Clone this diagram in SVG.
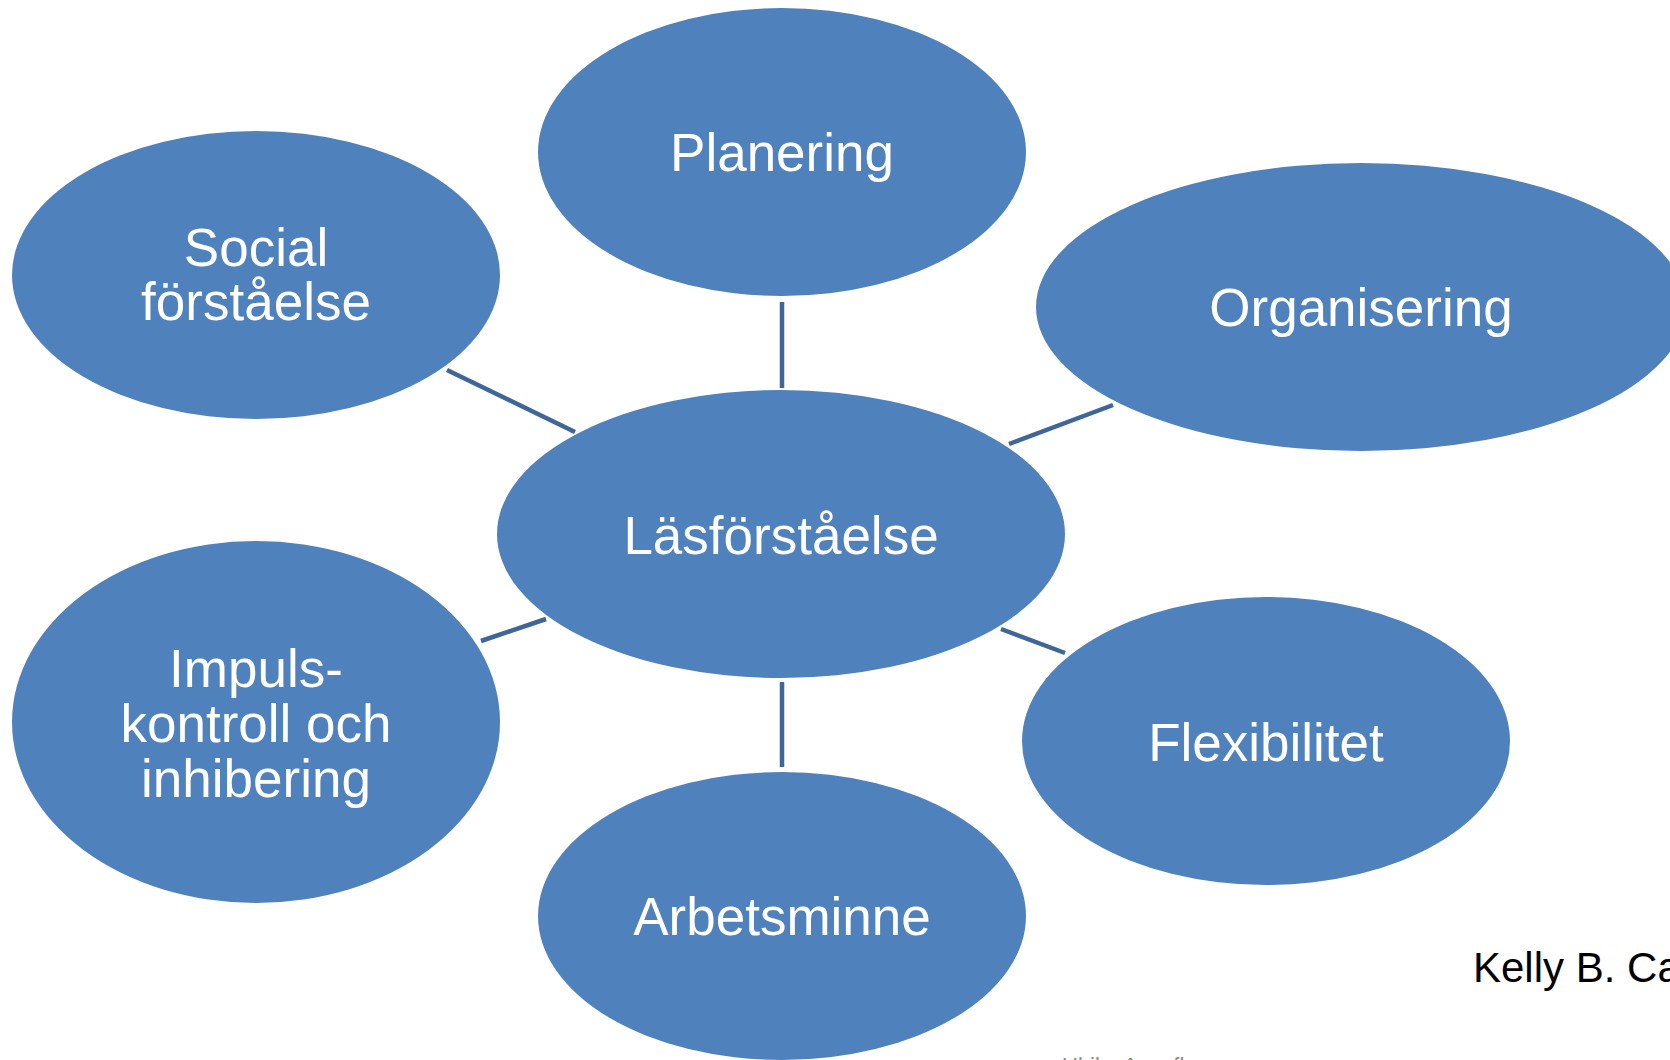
<svg xmlns="http://www.w3.org/2000/svg" width="1670" height="1060" viewBox="0 0 1670 1060">
<style>
.n{fill:#4F81BD;}
.t{fill:#FFFFFF;font-family:"Liberation Sans",Arial,sans-serif;font-size:53px;text-anchor:middle;}
.c{stroke:#3F6699;stroke-width:4.5;fill:none;}
</style>
<rect width="1670" height="1060" fill="#FFFFFF"/>
<g id="connectors">
<line class="c" x1="782" y1="302" x2="782" y2="388"/>
<line class="c" x1="447" y1="370" x2="575" y2="432"/>
<line class="c" x1="1113" y1="405" x2="1009" y2="444"/>
<line class="c" x1="481" y1="641" x2="546" y2="619"/>
<line class="c" x1="1001" y1="629" x2="1065" y2="653"/>
<line class="c" x1="782" y1="682" x2="782" y2="767"/>
</g>
<g id="planering">
<ellipse class="n" cx="782" cy="152" rx="244" ry="144"/>
<text class="t" x="782" y="171">Planering</text>
</g>
<g id="social">
<ellipse class="n" cx="256" cy="275" rx="244" ry="144"/>
<text class="t" x="256" y="266">Social</text>
<text class="t" x="256" y="320">förståelse</text>
</g>
<g id="organisering">
<ellipse class="n" cx="1361" cy="307" rx="325" ry="144"/>
<text class="t" x="1361" y="326">Organisering</text>
</g>
<g id="lasforstaelse">
<ellipse class="n" cx="781" cy="534" rx="284" ry="144"/>
<text class="t" x="781" y="554">Läsförståelse</text>
</g>
<g id="impuls">
<ellipse class="n" cx="256" cy="722" rx="244" ry="181"/>
<text class="t" x="256" y="687">Impuls-</text>
<text class="t" x="256" y="742">kontroll och</text>
<text class="t" x="256" y="797">inhibering</text>
</g>
<g id="flexibilitet">
<ellipse class="n" cx="1266" cy="741" rx="244" ry="144"/>
<text class="t" x="1266" y="761">Flexibilitet</text>
</g>
<g id="arbetsminne">
<ellipse class="n" cx="782" cy="916" rx="244" ry="144"/>
<text class="t" x="782" y="935">Arbetsminne</text>
</g>
<text x="1473" y="982" font-family="'Liberation Sans',Arial,sans-serif" font-size="42" fill="#000000">Kelly B. Ca</text>
<text x="1062" y="1073" font-family="'Liberation Sans',Arial,sans-serif" font-size="22" fill="#8C8C8C">Ulrika Aspeflo</text>
</svg>
